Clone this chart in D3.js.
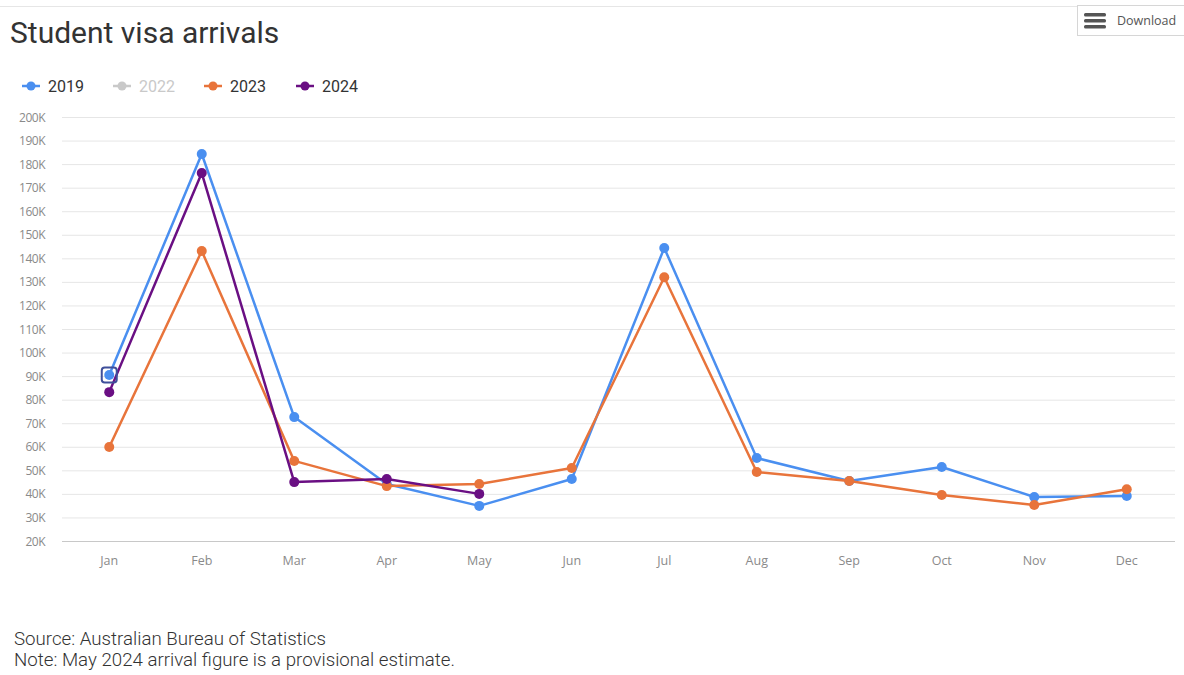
<!DOCTYPE html>
<html><head><meta charset="utf-8">
<script src="https://cdn.jsdelivr.net/npm/d3@7"></script>
<style>
body{margin:0;background:#fff;}
svg{display:block;}
</style></head>
<body><svg id="c" width="1184" height="675"></svg>
<script>
const months = ["Jan","Feb","Mar","Apr","May","Jun","Jul","Aug","Sep","Oct","Nov","Dec"];
const yTicks = [20,30,40,50,60,70,80,90,100,110,120,130,140,150,160,170,180,190,200];
const v2019 = [90.5,184.3,72.6,44.2,34.9,46.3,144.4,55.2,45.5,51.4,38.7,39.1];
const v2023 = [59.9,143.1,54.0,43.3,44.2,51.0,132.0,49.3,45.5,39.5,35.3,42.0];
const v2024 = [83.2,176.2,45.0,46.3,40.0];
const seriesNames = ["2019","2022","2023","2024"];
const seriesColors = ["#4a8ff0","#c9c9c9","#e8743b","#6a0f83"];
const seriesData = [v2019, [], v2023, v2024];

const svg = d3.select("#c");
const font = "Roboto, 'Open Sans', sans-serif";

// top border line
svg.append("line").attr("x1",0).attr("x2",1184).attr("y1",6.5).attr("y2",6.5).attr("stroke","#e6e6e6");

// Download button
const dl = svg.append("g");
dl.append("rect").attr("x",1077.5).attr("y",5.5).attr("width",110).attr("height",30).attr("fill","#fff").attr("stroke","#d6d6d6");
[0,6,12].forEach(o=>dl.append("rect").attr("x",1084).attr("y",13+o).attr("width",22).attr("height",3.5).attr("rx",1.5).attr("fill","#555"));
dl.append("text").attr("x",1117).attr("y",25).attr("font-family","'Open Sans', sans-serif").attr("font-size",12.5).attr("fill","#555").text("Download");

// Title
svg.append("text").attr("x",10).attr("y",43).attr("font-family",font).attr("font-size",30).attr("fill","#333").text("Student visa arrivals");

// Legend
const legX = [22,113,204,296];
seriesNames.forEach((n,i)=>{
  const g = svg.append("g").attr("transform",`translate(${legX[i]},86)`);
  g.append("line").attr("x1",0).attr("x2",18).attr("stroke",seriesColors[i]).attr("stroke-width",2.5);
  g.append("circle").attr("cx",9).attr("r",4.5).attr("fill",seriesColors[i]);
  g.append("text").attr("x",26).attr("y",5.5).attr("font-family",font).attr("font-size",16)
    .attr("fill", i===1 ? "#c9c9c9" : "#333").text(n);
});

const x = d3.scaleBand().domain(months).range([63,1173]);
const y = d3.scaleLinear().domain([20,200]).range([541,117]);

// gridlines
svg.append("g").selectAll("line").data(yTicks).join("line")
  .attr("x1",62).attr("x2",1175)
  .attr("y1",d=>y(d)+0.5).attr("y2",d=>y(d)+0.5)
  .attr("stroke",d=>d===20?"#c8c8c8":"#e6e6e6");

// y labels
svg.append("g").selectAll("text").data(yTicks).join("text")
  .attr("x",45).attr("y",d=>y(d)+4.5).attr("text-anchor","end")
  .attr("font-family","'Open Sans', sans-serif").attr("font-size",12).attr("fill","#8a8a8a")
  .attr("letter-spacing","-0.5")
  .text(d=>d+"K");

// x labels
svg.append("g").selectAll("text").data(months).join("text")
  .attr("x",d=>x(d)+x.bandwidth()/2).attr("y",565).attr("text-anchor","middle")
  .attr("font-family","'Open Sans', sans-serif").attr("font-size",12.5).attr("fill","#8a8a8a")
  .text(d=>d);

const line = d3.line().x((d,i)=>x(months[i])+x.bandwidth()/2).y(d=>y(d));
[0,2,3].forEach(si=>{
  const data = seriesData[si];
  svg.append("path").datum(data).attr("d",line).attr("fill","none")
    .attr("stroke",seriesColors[si]).attr("stroke-width",2.5).attr("stroke-linejoin","round");
  svg.append("g").selectAll("circle").data(data).join("circle")
    .attr("cx",(d,i)=>x(months[i])+x.bandwidth()/2).attr("cy",d=>y(d)).attr("r",5)
    .attr("fill",seriesColors[si]);
});

// hover highlight box on Jan 2019
svg.append("rect")
  .attr("x",x(months[0])+x.bandwidth()/2-7.5).attr("y",y(v2019[0])-7.5)
  .attr("width",15).attr("height",15).attr("rx",3)
  .attr("fill","none").attr("stroke","#3f4f9a").attr("stroke-width",2);

// footer
const foot = svg.append("g").attr("font-family",font).attr("font-size",18.7).attr("font-weight",300).attr("fill","#333");
foot.append("text").attr("x",14).attr("y",645).text("Source: Australian Bureau of Statistics");
foot.append("text").attr("x",14).attr("y",666).text("Note: May 2024 arrival figure is a provisional estimate.");
</script></body></html>
